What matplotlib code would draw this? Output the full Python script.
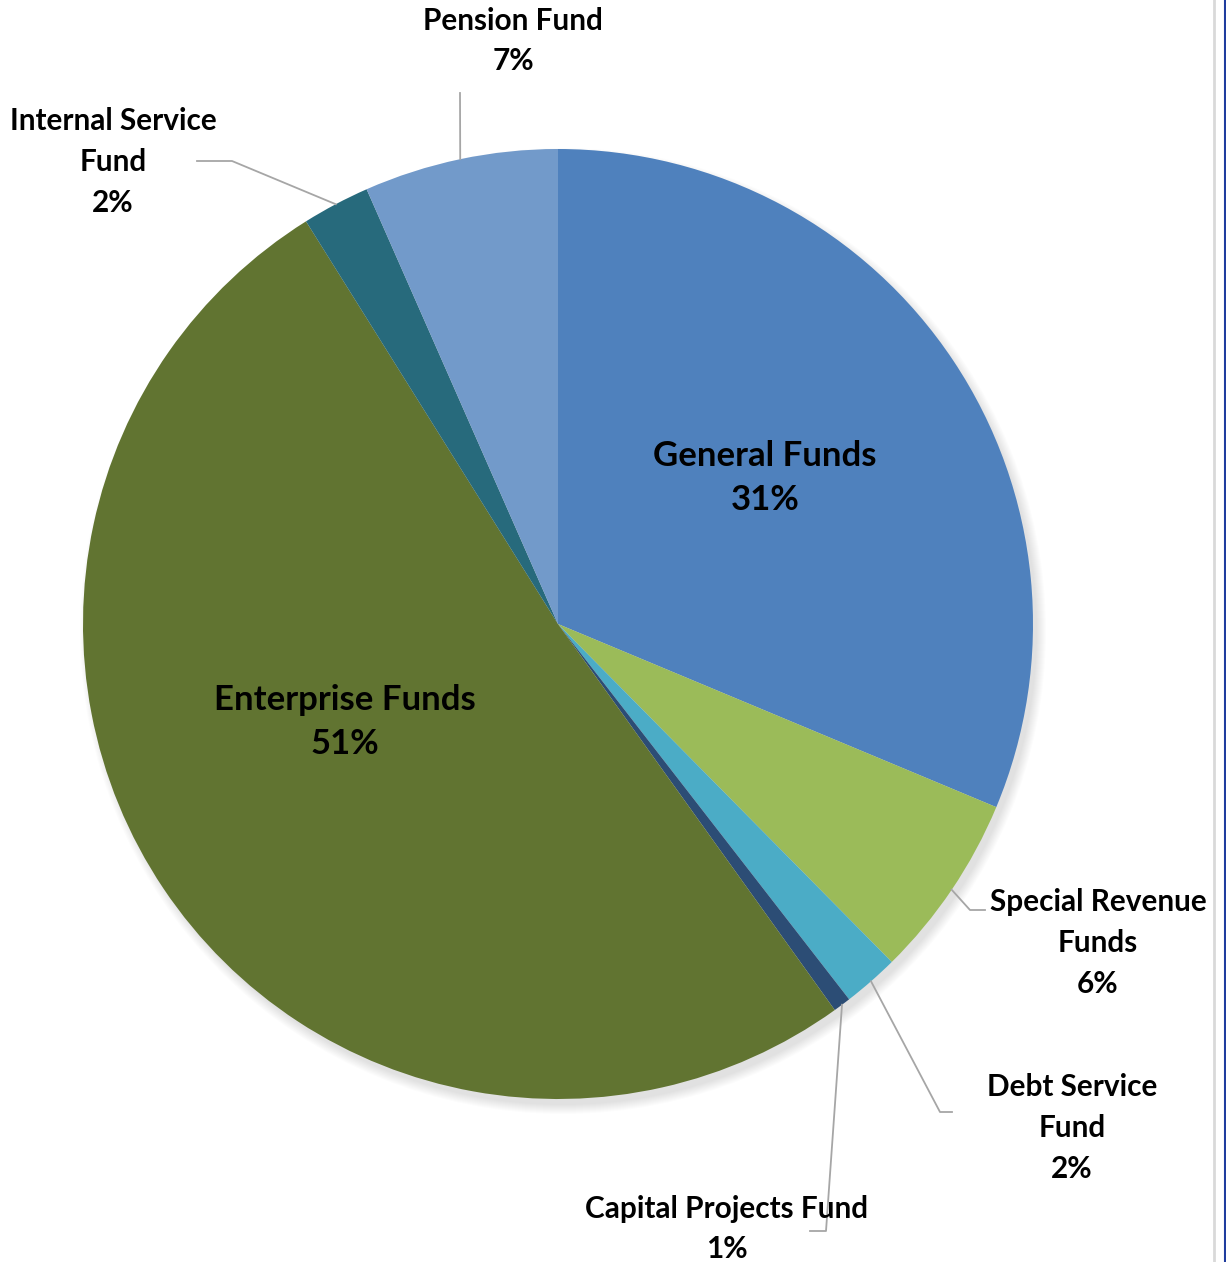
import numpy as np
import matplotlib
matplotlib.use("Agg")
from matplotlib import pyplot as plt
from matplotlib.patches import Circle
from matplotlib.lines import Line2D

# fund shares, clockwise from 12 o'clock
funds = ['General Funds', 'Special Revenue\nFunds', 'Debt Service\nFund',
         'Capital Projects Fund', 'Enterprise Funds', 'Internal Service\nFund',
         'Pension Fund']
shares = [31.3, 6.3, 1.9, 0.6, 51.0, 2.3, 6.6]
colors = ['#4F81BD', '#9BBB59', '#4BACC6', '#2C4D75', '#617431', '#276A7C', '#729ACA']

W, H = 1226, 1262
cx, cy, R = 558, H - 624, 475

fig = plt.figure(figsize=(W / 100, H / 100), dpi=100)
ax = fig.add_axes([0, 0, 1, 1])

# soft drop shadow under the pie
for k in range(10):
    ax.add_patch(Circle((cx + 5, cy - 7), R + 8 - k, color='black',
                        alpha=0.012, lw=0, zorder=0))

wedges, _ = ax.pie(shares, colors=colors, startangle=90, counterclock=False,
                   center=(cx, cy), radius=R,
                   wedgeprops=dict(linewidth=0), frame=True)
ax.set_xlim(0, W)
ax.set_ylim(0, H)
ax.set_aspect('equal')
ax.axis('off')

font = dict(family='Lato', weight='bold', color='black')

# inside labels: text centre in pixel coords
inside = {0: (765, 478), 4: (345, 722)}
# outside labels: text centre, leader line points after the slice edge
outside = {
    1: ((1098, 943), [(970, 910), (985, 910)]),
    2: ((1072, 1128), [(940, 1112), (952, 1112)]),
    3: ((727, 1229), [(826, 1231), (810, 1231)]),
    5: ((113, 162), [(232, 161), (197, 161)]),
    6: ((513, 41), [(460, 93)]),
}

for i, w in enumerate(wedges):
    text = '{0}\n{1:.0f}%'.format(funds[i], shares[i])
    if i in inside:
        x, y = inside[i]
        ax.text(x, H - y, text, ha='center', va='center', fontsize=25,
                linespacing=1.5, **font)
    else:
        (x, y), pts = outside[i]
        ax.text(x, H - y, text, ha='center', va='center', fontsize=21.4,
                linespacing=1.55, **font)
        mid = np.deg2rad((w.theta1 + w.theta2) / 2)
        xs = [cx + R * np.cos(mid)] + [p[0] for p in pts]
        ys = [cy + R * np.sin(mid)] + [H - p[1] for p in pts]
        ax.plot(xs, ys, color='#a6a6a6', lw=1.3, zorder=1)

# frame edges on the right
fig.add_artist(Line2D([1213.5 / W] * 2, [0, 1], color='#d9d9d9', lw=2))
fig.add_artist(Line2D([1225 / W] * 2, [0, 1], color='#1f3c9e', lw=1.5))

fig.savefig('out.png', dpi=100, facecolor='white')
